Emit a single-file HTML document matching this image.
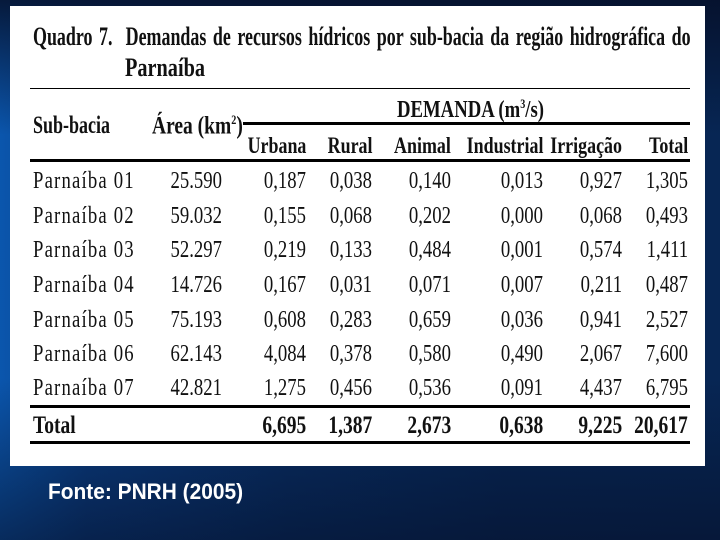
<!DOCTYPE html>
<html><head><meta charset="utf-8">
<style>
html,body{margin:0;padding:0}
body{width:720px;height:540px;position:relative;overflow:hidden;
background:linear-gradient(90deg,#0b56ad 0%,#0a3f86 12%,#082f66 40%,#072756 70%,#072654 100%);}
#topband{position:absolute;left:0;top:0;width:720px;height:540px;
background:linear-gradient(180deg,rgba(5,15,40,0.85) 0%,rgba(5,15,40,0) 25%,rgba(5,15,40,0) 70%,rgba(5,15,40,0.6) 100%);}
#panel{position:absolute;left:10px;top:6px;width:695px;height:460px;background:#fff}
.t{position:absolute;font-family:"Liberation Serif",serif;color:#111;white-space:nowrap;line-height:1}
.c{transform-origin:0 0;transform:scaleX(0.78)}
.r{transform-origin:100% 0;transform:scaleX(0.78)}
.b{font-weight:bold}
.ln{position:absolute;background:#000}
#fonte{position:absolute;left:48px;top:479px;font-family:"Liberation Sans",sans-serif;font-weight:bold;font-size:22px;color:#fff;transform-origin:0 0;transform:scaleX(0.95)}
</style></head>
<body>
<div id="topband"></div>
<div id="panel"></div>
<div class="t b" style="left:33px;top:24px;font-size:26px;transform-origin:0 0;transform:scaleX(0.69);word-spacing:3px">Quadro 7.&nbsp; Demandas de recursos hídricos por sub-bacia da região hidrográfica do</div>
<div class="t c b" style="left:125px;top:55px;font-size:26px">Parnaíba</div>
<div class="ln" style="left:30px;top:88px;width:660px;height:1px"></div>
<div class="t b" style="left:33px;top:113px;font-size:25px;transform-origin:0 0;transform:scaleX(0.72)">Sub-bacia</div>
<div class="t c b" style="left:152px;top:113px;font-size:25px">Área (km<sup style="font-size:13px">2</sup>)</div>
<div class="t c b" style="left:397px;top:97px;font-size:24px">DEMANDA (m<sup style="font-size:13px">3</sup>/s)</div>
<div class="ln" style="left:243px;top:122px;width:447px;height:3px"></div>
<div class="ln" style="left:30px;top:159px;width:660px;height:3px"></div>
<div class="ln" style="left:30px;top:405px;width:660px;height:3px"></div>
<div class="ln" style="left:30px;top:441px;width:660px;height:3px"></div>
<div id="fonte">Fonte: PNRH (2005)</div>
<script>
const headers=["Urbana","Rural","Animal","Industrial","Irrigação","Total"];
const names=["Parnaíba 01","Parnaíba 02","Parnaíba 03","Parnaíba 04","Parnaíba 05","Parnaíba 06","Parnaíba 07"];
const areas=["25.590","59.032","52.297","14.726","75.193","62.143","42.821"];
const urbana=["0,187","0,155","0,219","0,167","0,608","4,084","1,275"];
const rural=["0,038","0,068","0,133","0,031","0,283","0,378","0,456"];
const animal=["0,140","0,202","0,484","0,071","0,659","0,580","0,536"];
const industrial=["0,013","0,000","0,001","0,007","0,036","0,490","0,091"];
const irrigacao=["0,927","0,068","0,574","0,211","0,941","2,067","4,437"];
const total=["1,305","0,493","1,411","0,487","2,527","7,600","6,795"];
const totals=["6,695","1,387","2,673","0,638","9,225","20,617"];
const colRight=[306,372,451,543,622,688];
const rowTop=[169,204,238,273,308,342,376];
function add(txt,cls,css,name){
  const d=document.createElement('div');
  d.className='t '+cls;d.textContent=txt;d.style.cssText=css;
  
  
  document.body.appendChild(d);return d;
}
headers.forEach((h,i)=>add(h,'r b','right:'+(720-colRight[i])+'px;top:134px;font-size:23px','header-'+h.toLowerCase()));
const cols=[urbana,rural,animal,industrial,irrigacao,total];
names.forEach((n,r)=>{
  add(n,'','left:33px;top:'+rowTop[r]+'px;font-size:24px;transform-origin:0 0;transform:scaleX(0.78);letter-spacing:1.5px','row-name');
  add(areas[r],'r','right:'+(720-222)+'px;top:'+rowTop[r]+'px;font-size:24px','row-area');
  cols.forEach((col,i)=>add(col[r],'r','right:'+(720-colRight[i])+'px;top:'+rowTop[r]+'px;font-size:24px','row-value'));
});
add('Total','c b','left:33px;top:413px;font-size:25px','total-label');
totals.forEach((v,i)=>add(v,'r b','right:'+(720-colRight[i])+'px;top:413px;font-size:25px','total-value'));
</script>
</body></html>
